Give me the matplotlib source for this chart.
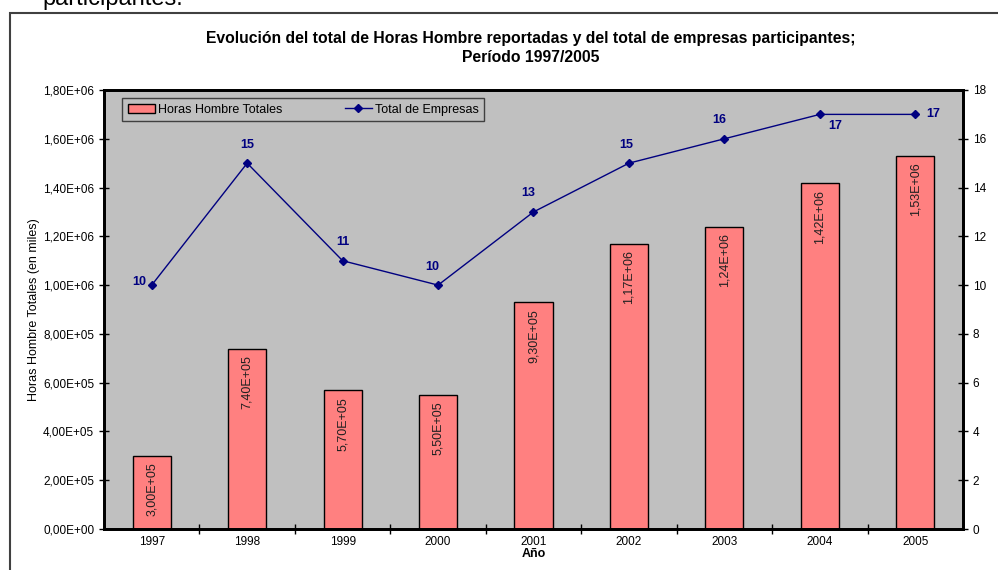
import matplotlib
matplotlib.use("Agg")
import matplotlib.pyplot as plt
from matplotlib.patches import Rectangle
from matplotlib.lines import Line2D
from matplotlib.patches import Patch

years = ["1997", "1998", "1999", "2000", "2001", "2002", "2003", "2004", "2005"]
horas = [3.00e5, 7.40e5, 5.70e5, 5.50e5, 9.30e5, 1.17e6, 1.24e6, 1.42e6, 1.53e6]
empresas = [10, 15, 11, 10, 13, 15, 16, 17, 17]

plt.rcParams['font.family'] = ['Liberation Sans Narrow', 'Liberation Sans', 'DejaVu Sans']


def sci_es(v):
    s = "%.2E" % v
    return s.replace(".", ",")


fig = plt.figure(figsize=(9.98, 5.70), dpi=100)
fig.patch.set_facecolor("white")

# marco del grafico
fig.add_artist(Rectangle((10 / 998, -0.05), 1.1, 1.05 - 13 / 570,
                         transform=fig.transFigure, fill=False,
                         edgecolor="#404040", linewidth=1.5))
fig.text(42 / 998, 1 - 5 / 570, "participantes.", fontsize=17,
         family=['Liberation Sans', 'DejaVu Sans'], va="baseline", ha="left")

ax = fig.add_axes([104 / 998, 1 - 529 / 570, (963 - 104) / 998, (529 - 90) / 570])
ax.set_facecolor("#c0c0c0")

x = list(range(len(years)))
ax.bar(x, horas, width=0.4, color="#ff8080", edgecolor="black", linewidth=1, zorder=2)
for xi, v in zip(x, horas):
    ax.text(xi, v - 2.8e4, sci_es(v), rotation=90, ha="center", va="top",
            fontsize=9, color="#202020", zorder=3)

ax.set_xlim(-0.5, len(years) - 0.5)
ax.set_ylim(0, 1.8e6)
ax.set_yticks([i * 2e5 for i in range(10)])
ax.set_yticklabels([sci_es(i * 2e5) for i in range(10)])
ax.set_xticks(x)
ax.set_xticklabels(years)
ax.set_xticks([i + 0.5 for i in x[:-1]], minor=True)
ax.tick_params(axis="x", which="major", length=0, pad=5, labelsize=8.5)
ax.tick_params(axis="x", which="minor", direction="inout", length=7, width=1)
ax.tick_params(axis="y", direction="inout", length=7, width=1, labelsize=8.5)
for sp in ax.spines.values():
    sp.set_linewidth(2)
ax.set_ylabel("Horas Hombre Totales (en miles)", fontsize=9, labelpad=2)
ax.set_xlabel("Año", fontsize=9, fontweight="bold", labelpad=0)

ax2 = ax.twinx()
ax2.plot(x, empresas, color="#000080", marker="D", markersize=4.5, linewidth=1, zorder=4)
ax2.set_ylim(0, 18)
ax2.set_yticks(range(0, 19, 2))
ax2.tick_params(axis="y", direction="inout", length=7, width=1, labelsize=8.5)
for sp in ax2.spines.values():
    sp.set_linewidth(2)
ax2.set_ylabel("Total de Empresas", fontsize=9, fontweight="bold", labelpad=12)

# posiciones de las etiquetas de la linea (offset en puntos, ha, va)
label_pos = [((-4, 2), "right", "center"), ((0, 9), "center", "bottom"),
             ((0, 9), "center", "bottom"), ((-4, 9), "center", "bottom"),
             ((-4, 9), "center", "bottom"), ((-2, 9), "center", "bottom"),
             ((-4, 9), "center", "bottom"), ((6, -4), "left", "top"),
             ((8, 0), "left", "center")]
for xi, v, (off, ha, va) in zip(x, empresas, label_pos):
    ax2.annotate(str(v), (xi, v), xytext=off, textcoords="offset points",
                 ha=ha, va=va, fontsize=9, fontweight="bold", color="#000080")

handles = [Patch(facecolor="#ff8080", edgecolor="black"),
           Line2D([0], [0], color="#000080", marker="D", markersize=4.5, linewidth=1)]
leg = ax.legend(handles, ["Horas Hombre Totales", "Total de Empresas"], ncol=2,
                loc="upper left", bbox_to_anchor=(0.021, 0.982), borderaxespad=0,
                fontsize=9, frameon=True, fancybox=False, columnspacing=5,
                handlelength=2.2, handletextpad=0.2, borderpad=0.45)
leg.get_frame().set_facecolor("#c0c0c0")
leg.get_frame().set_edgecolor("#404040")
leg.get_frame().set_linewidth(1)
leg.get_frame().set_alpha(1)

fig.text(531 / 998, 1 - 38 / 570,
         "Evolución del total de Horas Hombre reportadas y del total de empresas participantes;",
         ha="center", va="center", fontsize=11.3, fontweight="bold")
fig.text(531 / 998, 1 - 58 / 570, "Período 1997/2005",
         ha="center", va="center", fontsize=11.3, fontweight="bold")

fig.savefig("out.png", dpi=100)
